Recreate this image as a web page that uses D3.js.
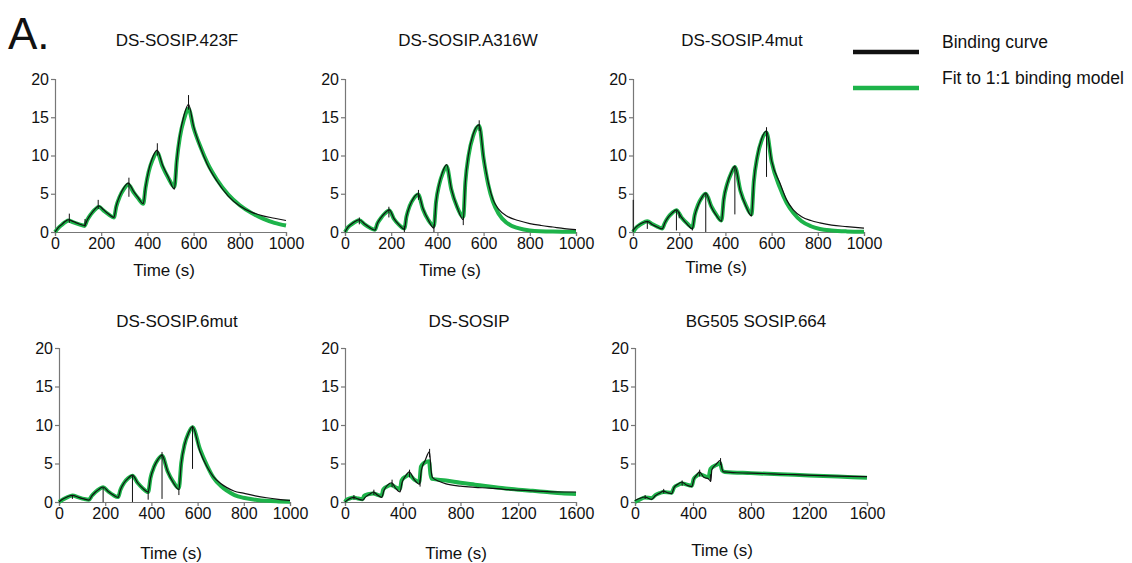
<!DOCTYPE html>
<html>
<head>
<meta charset="utf-8">
<script src="https://cdn.jsdelivr.net/npm/d3@7"></script>
<style>
  body { margin: 0; background: #fff; }
  svg { font-family: "Liberation Sans", Arial, sans-serif; }
</style>
</head>
<body>
<svg width="1132" height="563"></svg>
<script>
// panel titles and axes
var titles = ["DS-SOSIP.423F", "DS-SOSIP.A316W", "DS-SOSIP.4mut", "DS-SOSIP.6mut", "DS-SOSIP", "BG505 SOSIP.664"];
var xMaxes = [1000, 1000, 1000, 1000, 1600, 1600];
var xTicksShort = [0, 200, 400, 600, 800, 1000];
var xTicksLong = [0, 400, 800, 1200, 1600];
var yTicks = [0, 5, 10, 15, 20];
var legendLabels = ["Binding curve", "Fit to 1:1 binding model"];

// [time, response]
var bind423F = [[0,0],[15,0.6],[30,1.0],[45,1.4],[58,1.6],[80,1.35],[105,1.05],[128,0.85],[140,1.6],[155,2.3],[172,2.95],[190,3.4],[210,2.9],[232,2.35],[255,1.9],[265,3.4],[280,4.7],[298,5.8],[317,6.4],[340,5.3],[360,4.5],[382,3.7],[392,5.9],[405,8.0],[422,9.7],[442,10.7],[465,8.8],[490,7.2],[517,5.6],[527,9.4],[540,12.6],[558,15.2],[578,16.7],[600,13.8],[630,11.0],[660,8.8],[700,6.7],[750,4.7],[800,3.4],[850,2.6],[900,2.1],[950,1.8],[1000,1.5]];
var fit423F = [[0,0],[15,0.55],[30,0.95],[45,1.3],[58,1.5],[80,1.25],[105,1.0],[128,0.8],[140,1.6],[155,2.3],[172,2.9],[190,3.3],[210,2.8],[232,2.3],[255,1.9],[265,3.3],[280,4.6],[298,5.6],[317,6.2],[340,5.2],[360,4.4],[382,3.7],[392,5.8],[405,7.8],[422,9.4],[442,10.4],[465,8.6],[490,7.1],[517,5.9],[527,9.3],[540,12.3],[558,14.7],[578,16.1],[600,13.6],[630,11.1],[660,9.0],[700,6.9],[750,4.9],[800,3.5],[850,2.5],[900,1.75],[950,1.2],[1000,0.85]];
var spikes423F = [[62,1.2,2.4],[130,0.7,1.7],[187,3.0,4.2],[320,4.6,7.1],[443,10.0,11.6],[578,16.0,17.9]];

var bindA316W = [[0,0],[12,0.6],[28,1.05],[45,1.4],[62,1.6],[85,1.05],[108,0.55],[130,0.25],[140,1.1],[155,1.85],[172,2.45],[192,2.9],[212,1.75],[235,0.9],[257,0.35],[266,2.0],[280,3.4],[298,4.5],[317,5.0],[337,3.1],[360,1.6],[385,0.5],[394,3.9],[407,6.2],[422,7.8],[440,8.8],[460,5.7],[485,3.3],[512,1.6],[521,6.5],[535,10.2],[555,12.8],[581,14.0],[600,9.8],[620,6.5],[640,4.3],[665,3.0],[700,2.1],[750,1.5],[800,1.1],[850,0.85],[900,0.65],[950,0.45],[1000,0.3]];
var fitA316W = [[0,0],[12,0.6],[28,1.0],[45,1.35],[62,1.55],[85,1.0],[108,0.55],[130,0.3],[140,1.1],[155,1.8],[172,2.4],[192,2.8],[212,1.7],[235,0.9],[257,0.45],[266,2.0],[280,3.4],[298,4.4],[317,4.9],[337,3.0],[360,1.6],[385,0.8],[394,3.9],[407,6.1],[422,7.6],[440,8.6],[460,5.6],[485,3.3],[512,2.0],[521,6.5],[535,10.0],[555,12.6],[581,13.9],[600,9.6],[620,6.2],[640,4.0],[665,2.4],[700,1.2],[750,0.5],[800,0.2],[900,0.05],[1000,0.02]];
var spikesA316W = [[62,1.0,1.9],[190,1.9,3.3],[257,0.0,0.8],[318,4.2,5.5],[385,0.0,1.0],[512,0.9,2.0],[581,13.2,14.6]];

var bind4mut = [[0,0.2],[15,0.7],[35,1.1],[50,1.3],[62,1.4],[85,0.95],[105,0.65],[126,0.4],[138,1.2],[152,1.9],[170,2.5],[188,2.9],[210,1.9],[235,1.0],[257,0.4],[267,2.1],[282,3.5],[298,4.5],[315,5.1],[340,3.2],[362,2.1],[383,1.4],[393,4.3],[408,6.3],[424,7.7],[441,8.6],[465,5.3],[490,3.3],[513,2.1],[523,6.6],[538,9.9],[557,12.2],[578,13.2],[600,9.3],[636,6.4],[665,4.2],[694,2.9],[730,2.0],[770,1.5],[809,1.2],[860,0.9],[925,0.7],[1000,0.5]];
var fit4mut = [[0,0],[15,0.6],[35,1.05],[50,1.3],[62,1.4],[85,1.0],[105,0.7],[126,0.45],[138,1.2],[152,1.9],[170,2.5],[188,2.85],[210,1.9],[235,1.1],[257,0.6],[267,2.2],[282,3.6],[298,4.5],[315,5.0],[340,3.3],[362,2.2],[383,1.5],[393,4.3],[408,6.3],[424,7.6],[441,8.5],[465,5.4],[490,3.4],[513,2.3],[523,6.6],[538,9.8],[557,12.0],[578,13.0],[600,9.2],[636,5.8],[665,3.8],[694,2.5],[730,1.4],[770,0.75],[809,0.4],[860,0.2],[925,0.08],[1000,0.03]];
var spikes4mut = [[1,0.0,4.2],[62,0.4,1.4],[188,0.2,2.8],[200,1.8,2.6],[257,0.2,0.6],[315,0.0,5.0],[441,2.3,8.5],[578,7.2,13.7]];

var bind6mut = [[0,0],[15,0.35],[35,0.65],[58,0.87],[85,0.6],[108,0.4],[130,0.25],[142,0.8],[158,1.3],[175,1.7],[191,1.95],[212,1.4],[235,0.9],[256,0.6],[266,1.6],[282,2.5],[300,3.1],[318,3.5],[340,2.5],[362,1.8],[386,1.3],[396,3.1],[412,4.6],[428,5.5],[446,6.1],[470,4.0],[495,2.5],[519,1.6],[529,5.0],[544,7.5],[560,8.9],[578,9.8],[610,6.6],[640,4.6],[668,3.3],[700,2.4],[725,1.9],[760,1.4],[798,1.15],[850,0.8],[899,0.55],[950,0.35],[1000,0.2]];
var fit6mut = [[0,0],[15,0.3],[35,0.6],[58,0.85],[85,0.6],[108,0.4],[130,0.3],[142,0.8],[158,1.3],[175,1.7],[191,1.9],[212,1.4],[235,0.9],[256,0.65],[266,1.6],[282,2.5],[300,3.1],[318,3.4],[340,2.5],[362,1.8],[386,1.3],[396,3.1],[412,4.6],[428,5.5],[446,6.0],[470,4.0],[495,2.6],[519,1.8],[529,5.0],[544,7.5],[560,8.9],[578,9.7],[610,6.9],[640,4.8],[668,3.2],[700,2.1],[725,1.5],[760,0.9],[798,0.55],[850,0.3],[899,0.15],[950,0.08],[1000,0.04]];
var spikes6mut = [[58,0.4,0.9],[191,0.0,1.9],[318,0.0,3.4],[386,0.3,1.3],[446,0.4,6.5],[519,0.9,1.7],[578,4.3,9.9]];

var bindDS = [[0,0],[20,0.3],[40,0.5],[58,0.6],[90,0.4],[122,0.25],[140,0.6],[170,1.0],[197,1.3],[225,0.9],[254,0.6],[270,1.5],[295,2.2],[324,2.5],[350,1.8],[381,1.3],[395,2.5],[420,3.4],[445,3.9],[480,2.9],[515,2.3],[530,4.2],[555,5.4],[585,6.5],[597,4.0],[605,3.2],[650,2.7],[700,2.35],[800,2.05],[900,1.9],[1000,1.8],[1100,1.65],[1200,1.55],[1300,1.45],[1400,1.35],[1500,1.3],[1600,1.3]];
var fitDS = [[0,0],[12,0.3],[40,0.5],[58,0.6],[80,0.5],[122,0.35],[132,0.8],[160,1.0],[197,1.1],[230,0.9],[254,0.8],[264,1.6],[290,2.0],[324,2.2],[350,1.9],[381,1.7],[392,2.8],[420,3.3],[445,3.5],[480,2.9],[515,2.6],[526,4.6],[550,5.1],[582,5.3],[592,3.6],[602,3.0],[700,2.8],[800,2.5],[900,2.25],[1000,2.0],[1100,1.8],[1200,1.6],[1300,1.45],[1400,1.3],[1500,1.15],[1600,1.05]];
var spikesDS = [[62,0.3,0.9],[200,0.9,1.6],[326,1.9,2.9],[447,3.2,4.2],[520,2.0,2.9],[586,5.8,6.9]];

var bindBG = [[0,0.2],[30,0.45],[69,0.65],[95,0.45],[115,0.35],[140,0.8],[170,1.15],[196,1.4],[225,1.2],[253,1.1],[270,1.9],[295,2.3],[323,2.6],[355,2.2],[392,2.0],[405,2.9],[425,3.5],[445,3.9],[475,3.2],[507,3.0],[523,2.7],[530,4.2],[560,4.9],[588,5.4],[600,4.3],[611,3.9],[700,3.8],[887,3.7],[1000,3.6],[1100,3.55],[1233,3.45],[1400,3.35],[1600,3.3]];
var fitBG = [[0,0],[30,0.3],[69,0.6],[115,0.5],[140,0.9],[170,1.15],[196,1.3],[253,1.2],[270,1.9],[295,2.2],[323,2.4],[392,2.1],[405,3.0],[425,3.4],[445,3.6],[507,3.2],[520,4.3],[560,4.8],[588,5.0],[600,4.1],[620,3.9],[800,3.75],[1000,3.6],[1200,3.45],[1400,3.3],[1600,3.15]];
var spikesBG = [[70,0.4,0.9],[198,1.1,1.7],[325,2.1,2.8],[446,3.3,4.2],[520,2.6,3.6],[590,4.8,5.7]];

var bindSeries = [bind423F, bindA316W, bind4mut, bind6mut, bindDS, bindBG];
var fitSeries = [fit423F, fitA316W, fit4mut, fit6mut, fitDS, fitBG];
var spikeSeries = [spikes423F, spikesA316W, spikes4mut, spikes6mut, spikesDS, spikesBG];

// layout of the six panels (page pixels)
var panels = [
  { x0: 55, x1: 286, y0: 79, y1: 232, tx: 177, ty: 46, lx: 164, ly: 276 },
  { x0: 345, x1: 576, y0: 79, y1: 232, tx: 468, ty: 46, lx: 450, ly: 276 },
  { x0: 633, x1: 864, y0: 79, y1: 232, tx: 742, ty: 46, lx: 716, ly: 273 },
  { x0: 59, x1: 290, y0: 348, y1: 502, tx: 177, ty: 327, lx: 171, ly: 559 },
  { x0: 345, x1: 576, y0: 348, y1: 502, tx: 469, ty: 327, lx: 456, ly: 559 },
  { x0: 635, x1: 867, y0: 348, y1: 502, tx: 756, ty: 327, lx: 722, ly: 556 }
];

var GREEN = "#1db34a";
var AXIS_GREY = "#777";
var svg = d3.select("svg");

svg.append("text")
  .attr("x", 8)
  .attr("y", 49)
  .attr("font-size", 44)
  .attr("fill", "#111")
  .text("A.");

function draw_panel(i) {
  var p = panels[i];
  var x = d3.scaleLinear().domain([0, xMaxes[i]]).range([p.x0, p.x1]);
  var y = d3.scaleLinear().domain([0, 20]).range([p.y1, p.y0]);
  var g = svg.append("g").attr("class", "panel");

  var xAxis = d3.axisBottom(x)
    .tickValues(xMaxes[i] > 1000 ? xTicksLong : xTicksShort)
    .tickFormat(d3.format("d"))
    .tickSizeOuter(0)
    .tickSize(4)
    .tickPadding(2);
  var yAxis = d3.axisLeft(y)
    .tickValues(yTicks)
    .tickSizeOuter(0)
    .tickSize(4)
    .tickPadding(2);

  var gx = g.append("g").attr("transform", "translate(0," + p.y1 + ")").call(xAxis);
  var gy = g.append("g").attr("transform", "translate(" + p.x0 + ",0)").call(yAxis);
  [gx, gy].forEach(function (a) {
    a.select(".domain").attr("stroke", AXIS_GREY).attr("stroke-width", 1.2);
    a.selectAll(".tick line").attr("stroke", AXIS_GREY).attr("stroke-width", 1.2);
    a.selectAll(".tick text")
      .attr("font-size", 16)
      .attr("fill", "#111")
      .attr("font-family", "Liberation Sans, Arial, sans-serif");
  });

  var line = d3.line()
    .x(function (d) { return x(d[0]); })
    .y(function (d) { return y(d[1]); })
    .curve(d3.curveMonotoneX);

  g.append("path")
    .datum(fitSeries[i])
    .attr("d", line)
    .attr("fill", "none")
    .attr("stroke", GREEN)
    .attr("stroke-width", 4)
    .attr("stroke-linejoin", "round");

  g.append("path")
    .datum(bindSeries[i])
    .attr("d", line)
    .attr("fill", "none")
    .attr("stroke", "#111")
    .attr("stroke-width", 1.2);

  g.selectAll("line.spike")
    .data(spikeSeries[i])
    .enter()
    .append("line")
    .attr("class", "spike")
    .attr("x1", function (d) { return x(d[0]); })
    .attr("x2", function (d) { return x(d[0]); })
    .attr("y1", function (d) { return y(d[1]); })
    .attr("y2", function (d) { return y(d[2]); })
    .attr("stroke", "#111")
    .attr("stroke-width", 1);

  g.append("text")
    .attr("x", p.tx)
    .attr("y", p.ty)
    .attr("text-anchor", "middle")
    .attr("font-size", 17)
    .attr("fill", "#111")
    .text(titles[i]);

  g.append("text")
    .attr("x", p.lx)
    .attr("y", p.ly)
    .attr("text-anchor", "middle")
    .attr("font-size", 17)
    .attr("fill", "#111")
    .text("Time (s)");
}

for (var i = 0; i < panels.length; i++) draw_panel(i);

// legend
var legend = svg.append("g");
var legendColors = ["#111", GREEN];
var legendY = [52, 88];
legendLabels.forEach(function (lab, k) {
  legend.append("line")
    .attr("x1", 853).attr("x2", 919)
    .attr("y1", legendY[k]).attr("y2", legendY[k])
    .attr("stroke", legendColors[k])
    .attr("stroke-width", 4.5);
  legend.append("text")
    .attr("x", 942)
    .attr("y", legendY[k] - 4)
    .attr("font-size", 17.5)
    .attr("fill", "#111")
    .text(lab);
});
</script>
</body>
</html>
